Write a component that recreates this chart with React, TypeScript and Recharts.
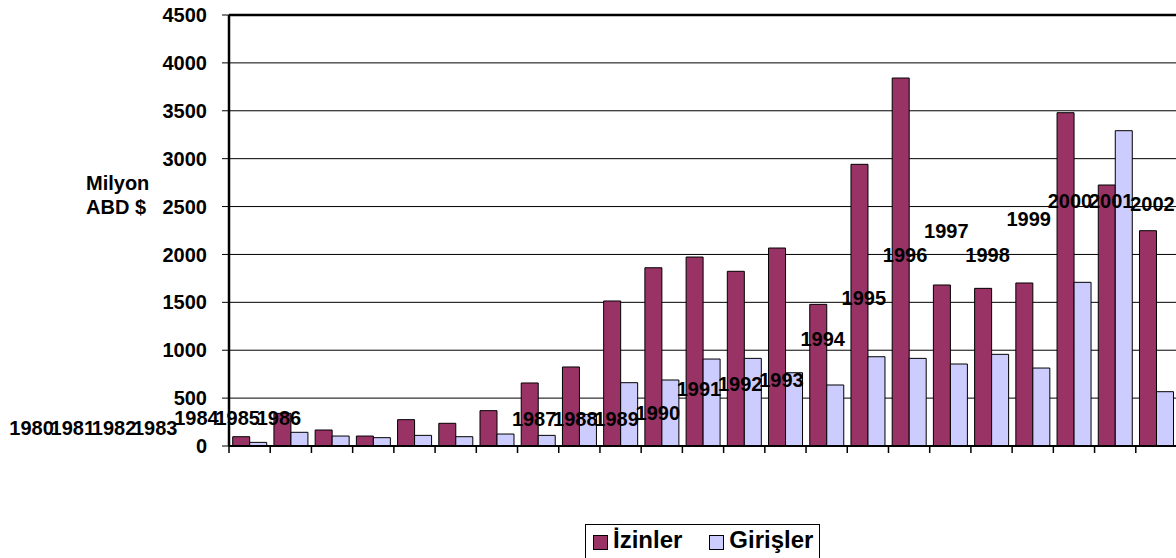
import React from "react";
import {
  ComposedChart,
  Bar,
  Line,
  XAxis,
  YAxis,
  CartesianGrid,
  ReferenceLine,
  LabelList,
  Legend,
} from "recharts";

// years on the category axis
const years = [
  "1980", "1981", "1982", "1983", "1984", "1985", "1986", "1987", "1988", "1989", "1990", "1991",
  "1992", "1993", "1994", "1995", "1996", "1997", "1998", "1999", "2000", "2001", "2002",
];

// Milyon ABD $
const izinler = [
  97, 341, 167, 104, 275, 237, 369, 658, 825, 1514, 1861, 1973,
  1824, 2067, 1479, 2941, 3842, 1681, 1646, 1702, 3480, 2725, 2248,
];
const girisler = [
  38, 143, 104, 87, 111, 97, 125, 111, 330, 661, 689, 908,
  915, 765, 637, 932, 915, 856, 957, 814, 1709, 3292, 567,
];

// level (in axis units) where each year label sits
const yearLabelLevel = [
  193, 193, 193, 193, 292, 292, 292, 282, 282, 287, 345, 595,
  647, 684, 1117, 1545, 1989, 2245, 1989, 2373, 2563, 2563, 2527,
];

const yTicks = [0, 500, 1000, 1500, 2000, 2500, 3000, 3500, 4000, 4500];

const legendOrder = ["izin", "giris"];

const data = years.map((year, i) => ({
  year,
  izin: izinler[i],
  giris: girisler[i],
  lbl: yearLabelLevel[i],
}));

// the original chart runs right up to the window edge
if (typeof document !== "undefined") document.body.style.margin = "0";

const W = 1170;
const H = 550;
const Y_AXIS_W = 221;
const MARGIN = { top: 7, right: 1, bottom: 82, left: 0 };
const PLOT_W = W - Y_AXIS_W - MARGIN.left - MARGIN.right;
const BAND = PLOT_W / years.length;
const FONT = "'Liberation Sans', Arial, sans-serif";

function CategoryTick(props: any) {
  const { x, y } = props;
  const bx = x - BAND / 2;
  return <line x1={bx} x2={bx} y1={y} y2={y + 7} stroke="#000" strokeWidth={1.5} />;
}

function YearLabel(props: any) {
  const { x, y, index, value } = props;
  // the early labels were dragged off to the left in the original
  const dx = index < 7 ? -218 : -4;
  return (
    <text
      x={x + dx}
      y={y}
      dy={7}
      textAnchor="middle"
      fontSize={20}
      fontWeight="bold"
      fontFamily={FONT}
      fill="#000"
    >
      {value}
    </text>
  );
}

function AxisTitle() {
  return (
    <text x={78} y={182} fontSize={20} fontWeight="bold" fontFamily={FONT} fill="#000">
      <tspan x={78}>Milyon</tspan>
      <tspan x={78} dy={24}>
        ABD $
      </tspan>
    </text>
  );
}

function LegendBox(props: any) {
  const items = (props.payload || [])
    .filter((p: any) => legendOrder.includes(p.dataKey))
    .sort((a: any, b: any) => legendOrder.indexOf(a.dataKey) - legendOrder.indexOf(b.dataKey));
  return (
    <div
      style={{
        boxSizing: "border-box",
        width: 235,
        height: 44,
        border: "1px solid #000",
        background: "#fff",
        padding: "0 0 0 7px",
        display: "flex",
        fontFamily: FONT,
        fontSize: 24,
        fontWeight: "bold",
        lineHeight: "20px",
        color: "#000",
      }}
    >
      {items.map((it: any, i: number) => (
        <div
          key={it.dataKey}
          style={{
            display: "flex",
            alignItems: "center",
            height: 28,
            marginLeft: i === 0 ? 0 : 27,
          }}
        >
          <span
            style={{
              boxSizing: "border-box",
              width: 15,
              height: 15,
              background: it.color,
              border: "1px solid #000",
              marginRight: 5,
              marginTop: 6,
            }}
          />
          <span style={{ marginTop: 2 }}>{it.value}</span>
        </div>
      ))}
    </div>
  );
}

export default function App() {
  return (
    <div
      style={{
        boxSizing: "border-box",
        width: 1176,
        height: 558,
        padding: "8px 0 0 8px",
        overflow: "hidden",
        fontFamily: FONT,
      }}
    >
      <ComposedChart
        width={W}
        height={H}
        data={data}
        margin={MARGIN}
        barCategoryGap="9%"
        barGap={0}
      >
        <CartesianGrid vertical={false} stroke="#000" strokeWidth={1} />
        <XAxis
          dataKey="year"
          height={30}
          interval={0}
          tickSize={0}
          tickMargin={0}
          tickLine={false}
          axisLine={{ stroke: "#000", strokeWidth: 2 }}
          tick={<CategoryTick />}
        />
        <YAxis
          width={Y_AXIS_W}
          domain={[0, 4500]}
          ticks={yTicks}
          interval={0}
          tickSize={7}
          tickMargin={15}
          axisLine={{ stroke: "#000", strokeWidth: 2.5 }}
          tickLine={{ stroke: "#000", strokeWidth: 1 }}
          tick={{ fontSize: 20, fontWeight: "bold", fill: "#000", fontFamily: FONT }}
          label={{ content: () => <AxisTitle /> }}
        />
        <ReferenceLine y={4500} stroke="#000" strokeWidth={2.5} ifOverflow="visible" />
        <Bar
          dataKey="izin"
          name="İzinler"
          fill="#993366"
          stroke="#000"
          strokeWidth={1}
          isAnimationActive={false}
        />
        <Bar
          dataKey="giris"
          name="Girişler"
          fill="#CCCCFF"
          stroke="#000"
          strokeWidth={1}
          isAnimationActive={false}
        />
        <Line
          dataKey="lbl"
          stroke="none"
          dot={false}
          activeDot={false}
          legendType="none"
          isAnimationActive={false}
        >
          <LabelList dataKey="year" content={<YearLabel />} />
        </Line>
        <Legend
          layout="vertical"
          align="center"
          verticalAlign="middle"
          content={<LegendBox />}
          wrapperStyle={{ left: 577, top: 516, width: 235, height: 44 }}
        />
      </ComposedChart>
    </div>
  );
}
